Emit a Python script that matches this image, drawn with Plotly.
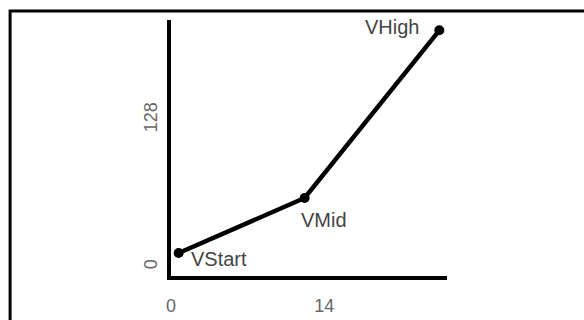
import plotly.graph_objects as go

# Data
point_labels = ["VStart", "VMid", "VHigh"]
x_values = [0.7, 12.2, 24.5]
y_values = [12, 60, 206]
x_tick_vals = [0, 14]
x_tick_text = ["0", "14"]
y_tick_vals = [0, 128]
y_tick_text = ["0", "128"]

fig = go.Figure()
fig.add_trace(go.Scatter(
    x=x_values, y=y_values, mode="lines+markers",
    line=dict(color="black", width=4.5),
    marker=dict(color="black", size=10),
    hoverinfo="skip", showlegend=False,
))

label_font = dict(family="Liberation Sans, Arial, sans-serif", size=20, color="#444444")
offsets = {"VStart": dict(xanchor="left", yanchor="middle", xshift=10, yshift=-6),
           "VMid": dict(xanchor="left", yanchor="top", xshift=-6, yshift=-9),
           "VHigh": dict(xanchor="right", yanchor="middle", xshift=-18, yshift=3)}
for lab, xv, yv in zip(point_labels, x_values, y_values):
    fig.add_annotation(x=xv, y=yv, text=lab, showarrow=False, font=label_font, **offsets[lab])

tick_font = dict(family="Liberation Sans, Arial, sans-serif", size=18, color="#666666")
fig.update_xaxes(range=[0, 25.2], showline=True, linecolor="black", linewidth=4,
                 showgrid=False, zeroline=False, tickvals=x_tick_vals, ticktext=x_tick_text,
                 tickfont=tick_font, ticks="", ticklabelstandoff=10, automargin=False)
fig.update_yaxes(range=[-8, 215], showline=True, linecolor="black", linewidth=4,
                 showgrid=False, zeroline=False, tickvals=y_tick_vals, ticktext=y_tick_text,
                 tickfont=tick_font, ticks="", tickangle=-90, ticklabelstandoff=3, automargin=False)

fig.add_shape(type="rect", xref="paper", yref="paper", x0=-0.583, x1=2, y0=-0.5, y1=1.035,
              line=dict(color="black", width=3), fillcolor="rgba(0,0,0,0)")

fig.update_layout(width=584, height=320, margin=dict(l=171, r=137, t=20, b=44),
                  paper_bgcolor="white", plot_bgcolor="white")
fig.write_html("out.html", config={"displayModeBar": False, "staticPlot": True},
               post_script="document.body.style.margin='0';document.body.style.overflow='hidden';")
